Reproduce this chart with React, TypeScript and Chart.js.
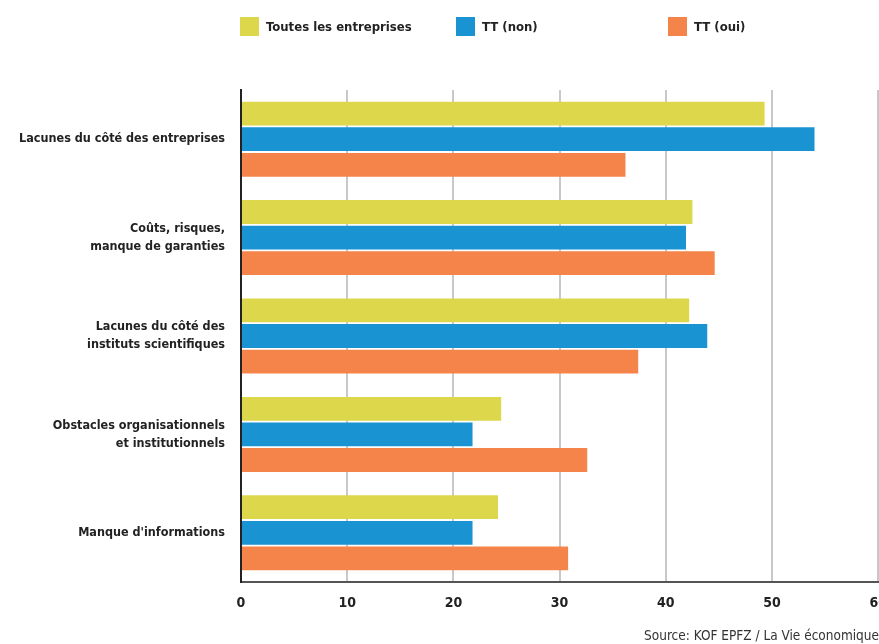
import React, { useEffect, useRef } from "react";
import { Chart, registerables } from "chart.js";

Chart.register(...registerables);

const categories: (string | string[])[] = [
  "Lacunes du côté des entreprises",
  ["Coûts, risques,", "manque de garanties"],
  ["Lacunes du côté des", "instituts scientifiques"],
  ["Obstacles organisationnels", "et institutionnels"],
  "Manque d'informations",
];
const seriesNames = ["Toutes les entreprises", "TT (non)", "TT (oui)"];
const toutes = [49.3, 42.5, 42.2, 24.5, 24.2];
const ttNon = [54.0, 41.9, 43.9, 21.8, 21.8];
const ttOui = [36.2, 44.6, 37.4, 32.6, 30.8];
const xTicks = [0, 10, 20, 30, 40, 50, 60];
const sourceText = "Source: KOF EPFZ / La Vie économique";

const colors = ["#DDD74B", "#1A93D2", "#F5844A"];
const FONT = "'Liberation Sans Narrow', 'DejaVu Sans Condensed', 'Open Sans', sans-serif";
const legendLeft = [240, 456, 668];

export default function App() {
  const ref = useRef<HTMLCanvasElement | null>(null);
  useEffect(() => {
    if (!ref.current) return;
    const chart = new Chart(ref.current, {
      type: "bar",
      data: {
        labels: categories,
        datasets: [toutes, ttNon, ttOui].map((d, i) => ({
          label: seriesNames[i],
          data: d,
          backgroundColor: colors[i],
          borderWidth: 0,
          categoryPercentage: 0.78,
          barPercentage: 0.93,
        })),
      },
      options: {
        indexAxis: "y",
        responsive: false,
        animation: false,
        layout: { padding: { top: 90, left: 0, right: 0, bottom: 0 } },
        plugins: { legend: { display: false }, tooltip: { enabled: false } },
        scales: {
          x: {
            min: 0,
            max: 60,
            afterBuildTicks: (s: any) => {
              s.ticks = xTicks.map((v) => ({ value: v }));
            },
            afterFit: (s: any) => {
              s.height = 62;
            },
            grid: { color: "#c8c8c8", lineWidth: 2, drawTicks: false },
            border: { display: true, color: "#555555", width: 2 },
            ticks: {
              padding: 13,
              color: "#222222",
              font: { family: FONT, size: 14, weight: "bold" },
            },
          },
          y: {
            afterFit: (s: any) => {
              s.width = 241;
            },
            grid: { display: false, drawTicks: false },
            border: { display: true, color: "#222222", width: 2 },
            ticks: {
              padding: 16,
              crossAlign: "near",
              color: "#222222",
              font: { family: FONT, size: 12.5, weight: "bold", lineHeight: 1.45 },
            },
          },
        },
      },
    });
    return () => chart.destroy();
  }, []);

  return (
    <div
      style={{
        position: "absolute",
        left: 0,
        top: 0,
        width: 879,
        height: 644,
        overflow: "hidden",
        background: "#fff",
        fontFamily: FONT,
      }}
    >
      <canvas ref={ref} width={900} height={644} style={{ display: "block" }} />
      {seriesNames.map((n, i) => (
        <div
          key={n}
          style={{
            position: "absolute",
            left: legendLeft[i],
            top: 17,
            height: 19,
            display: "flex",
            alignItems: "center",
            fontWeight: "bold",
            fontSize: 13,
            color: "#222",
            whiteSpace: "nowrap",
          }}
        >
          <span
            style={{
              display: "inline-block",
              width: 19,
              height: 19,
              background: colors[i],
              marginRight: 7,
            }}
          />
          {n}
        </div>
      ))}
      <div
        style={{
          position: "absolute",
          right: 0,
          top: 627,
          fontSize: 13.5,
          color: "#333",
          whiteSpace: "nowrap",
        }}
      >
        {sourceText}
      </div>
    </div>
  );
}
